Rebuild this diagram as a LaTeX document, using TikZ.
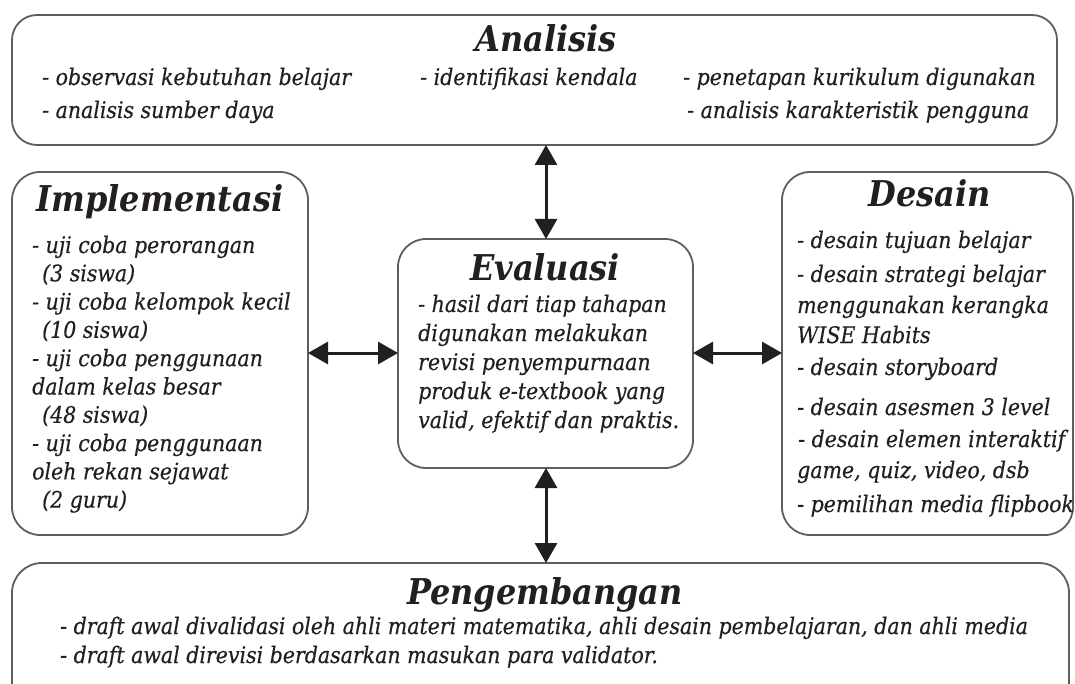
\documentclass[tikz,border=0pt]{standalone}
\usepackage{fontspec}
\setmainfont{DejaVu Serif}[FakeStretch=0.9]
\newfontfamily\itemfont{DejaVu Serif}[FakeStretch=0.9,FakeBold=0.4]
\usetikzlibrary{arrows.meta}
\definecolor{ink}{HTML}{231F20}
\definecolor{edge}{HTML}{5E5E5E}
\tikzset{
  box/.style={draw=edge, line width=1.8pt, rounded corners=28pt, fill=white},
  ttl/.style={anchor=base, inner sep=0pt, text=ink, font=\bfseries\itshape\fontsize{35.5}{40}\selectfont},
  item/.style={anchor=base west, inner sep=0pt, text=ink, font=\itemfont\itshape\fontsize{22.8}{26}\selectfont},
  arr/.style={draw=ink, line width=3pt, {Triangle[width=22pt,length=20pt]}-{Triangle[width=22pt,length=20pt]}}
}
\begin{document}
\begin{tikzpicture}[x=1pt,y=-1pt]
\useasboundingbox (0,0) rectangle (1075,684);
\clip (0,0) rectangle (1075,684);
% boxes
\draw[box, rounded corners=25pt] (12,15) rectangle (1057,145);
\coordinate (anaS) at (546,145);
\draw[box] (12,172) rectangle (308,535);
\coordinate (impE) at (308,353);
\draw[box] (398,239) rectangle (693,468);
\coordinate (evaN) at (546,239);
\coordinate (evaS) at (546,468);
\coordinate (evaW) at (398,353);
\coordinate (evaE) at (693,353);
\draw[box] (782,172) rectangle (1073,535);
\coordinate (desW) at (782,353);
\draw[box, rounded corners=30pt] (12,563) rectangle (1069,740);
\coordinate (pengN) at (546,563);
% arrows
\draw[arr] (anaS) -- (evaN);
\draw[arr] (evaS) -- (pengN);
\draw[arr] (impE) -- (evaW);
\draw[arr] (evaE) -- (desW);
% Analisis
\node[ttl] (anaT) at (546,52) {Analisis};
\node[item] (a1) at (42,85) {- observasi kebutuhan belajar};
\node[item] (a2) at (42,118) {- analisis sumber daya};
\node[item] (a3) at (420,85) {- identifikasi kendala};
\node[item] (a4) at (683,85) {- penetapan kurikulum digunakan};
\node[item] (a5) at (687,118) {- analisis karakteristik pengguna};
% Implementasi
\node[ttl] (impT) at (160,212) {Implementasi};
\node[item] (i1) at (32,253) {- uji coba perorangan};
\node[item] (i2) at (42,281.3) {(3 siswa)};
\node[item] (i3) at (32,309.6) {- uji coba kelompok kecil};
\node[item] (i4) at (42,337.9) {(10 siswa)};
\node[item] (i5) at (32,366.2) {- uji coba penggunaan};
\node[item] (i6) at (32,394.5) {dalam kelas besar};
\node[item] (i7) at (42,422.8) {(48 siswa)};
\node[item] (i8) at (32,451.1) {- uji coba penggunaan};
\node[item] (i9) at (32,479.4) {oleh rekan sejawat};
\node[item] (i10) at (42,507.7) {(2 guru)};
% Evaluasi
\node[ttl] (evaT) at (545,280) {Evaluasi};
\node[item] (e1) at (418,312) {- hasil dari tiap tahapan};
\node[item] (e2) at (418,341) {digunakan melakukan};
\node[item] (e3) at (418,370) {revisi penyempurnaan};
\node[item] (e4) at (418,399) {produk e-textbook yang};
\node[item] (e5) at (418,428) {valid, efektif dan praktis.};
% Desain
\node[ttl] (desT) at (930,207) {Desain};
\node[item] (d1) at (797,248) {- desain tujuan belajar};
\node[item] (d2) at (797,282) {- desain strategi belajar};
\node[item] (d3) at (797,313) {menggunakan kerangka};
\node[item] (d4) at (797,343) {WISE Habits};
\node[item] (d5) at (797,375) {- desain storyboard};
\node[item] (d6) at (797,415) {- desain asesmen 3 level};
\node[item] (d7) at (798,447) {- desain elemen interaktif};
\node[item] (d8) at (797,478) {game, quiz, video, dsb};
\node[item] (d9) at (797,512) {- pemilihan media flipbook};
% Pengembangan
\node[ttl] (pengT) at (545,604) {Pengembangan};
\node[item] (p1) at (60,634) {- draft awal divalidasi oleh ahli materi matematika, ahli desain pembelajaran, dan ahli media};
\node[item] (p2) at (60,663) {- draft awal direvisi berdasarkan masukan para validator.};
\end{tikzpicture}
\end{document}
